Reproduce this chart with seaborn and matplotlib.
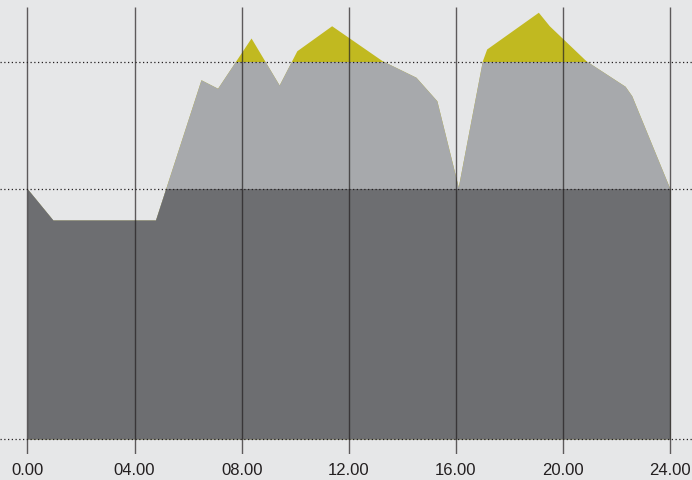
import seaborn as sns
import pandas as pd
import numpy as np
import matplotlib.pyplot as plt
from matplotlib.patches import Rectangle

# values
hours = [0.0, 0.95, 4.78, 6.48, 7.1, 8.35, 9.4, 10.06, 11.36, 13.25, 14.51, 15.29,
         16.09, 16.99, 17.15, 19.08, 19.49, 20.86, 22.32, 22.57, 24.0]
level = [100, 87.6, 87.6, 143.7, 140.3, 160.4, 141.6, 155.3, 165.3, 151.3, 144.7, 135.3,
         100.8, 151.3, 156.0, 170.7, 165.3, 151.3, 141.1, 137.3, 100]
thresholds = [0, 100, 151]
tick_hours = [0, 4, 8, 12, 16, 20, 24]
tick_labels = ["0.00", "04.00", "08.00", "12.00", "16.00", "20.00", "24.00"]

bg = "#e6e7e8"
dark = "#6d6e71"
light = "#a7a9ac"
yellow = "#c1b920"

sns.set_theme(style="white", rc={"axes.facecolor": bg, "figure.facecolor": bg})
plt.rcParams['font.family'] = ['Liberation Sans', 'DejaVu Sans']

df = pd.DataFrame({"hour": hours, "level": level})

fig = plt.figure(figsize=(6.92, 4.81), dpi=100)
ax = fig.add_axes([0, 26 / 481, 1, 455 / 481])
sns.lineplot(data=df, x="hour", y="level", ax=ax, linewidth=0, color=yellow)

x = df["hour"].values
y = df["level"].values
# full area in yellow, then grey bands clipped by the thresholds
ax.fill_between(x, 0, y, color=yellow, linewidth=0, zorder=1)
for top, col in [(thresholds[2], light), (thresholds[1], dark)]:
    poly = ax.fill_between(x, 0, y, color=col, linewidth=0, zorder=2)
    clip = Rectangle((-5, -50), 40, top + 50, transform=ax.transData)
    poly.set_clip_path(clip)

for t in thresholds:
    ax.axhline(t, color="#231f20", linestyle=(0, (1, 2)), linewidth=0.9, zorder=4)

ax.vlines(tick_hours, -6, 172.8, color="#231f20", linewidth=1, alpha=0.7, zorder=3)

ax.set_xlim(-1.027, 24.82)
ax.set_ylim(-6, 176)
ax.set_xticks(tick_hours)
ax.set_xticklabels(tick_labels, fontsize=12, color="#231f20")
ax.tick_params(axis="x", length=0, pad=6)
ax.set_yticks([])
ax.set_xlabel("")
ax.set_ylabel("")
for s in ax.spines.values():
    s.set_visible(False)

plt.savefig("out.png", dpi=100, facecolor=bg)
